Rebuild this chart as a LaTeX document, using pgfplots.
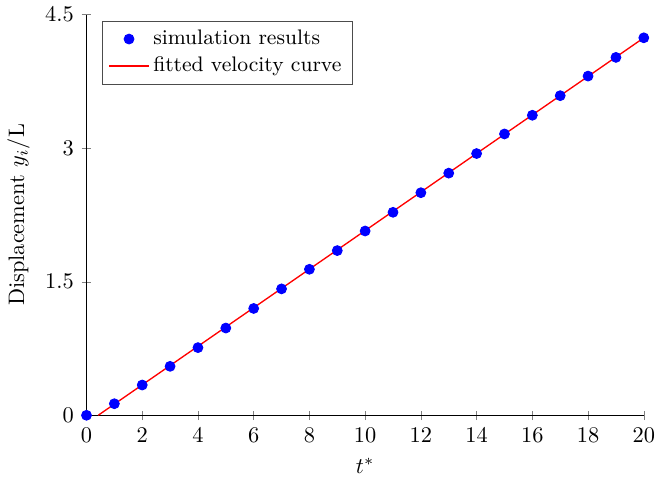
\documentclass[border=0pt]{standalone}
\usepackage{pgfplots}
\pgfplotsset{compat=1.18}
\begin{document}
\begin{tikzpicture}
\begin{axis}[
  scale only axis,
  width=249pt, height=179pt,
  xmin=0, xmax=20, ymin=0, ymax=4.5,
  axis x line=bottom, axis y line=left,
  axis line style={-},
  xtick={0,2,...,20},
  ytick={0,1.5,3,4.5},
  x tick label style={inner xsep=0pt},
  xlabel={$t^*$},
  ylabel={Displacement $y_i$/L},
  legend style={at={(0.028,0.985)}, anchor=north west, draw=black!70,
    font=\fontsize{9.4}{11.3}\selectfont},
  legend cell align=left,
  clip=false,
]
\addplot[only marks, mark=*, mark size=2.2pt, color=blue] coordinates {
  (0,0) (1,0.13) (2,0.34) (3,0.55) (4,0.76) (5,0.98) (6,1.20)
  (7,1.42) (8,1.64) (9,1.85) (10,2.07) (11,2.28) (12,2.50)
  (13,2.72) (14,2.94) (15,3.16) (16,3.37) (17,3.59) (18,3.81)
  (19,4.02) (20,4.24)
};
\addlegendentry{simulation results}
\addplot[red, line width=0.6pt,
  legend image code/.code={\fill[red] (0cm,-0.3pt) rectangle (0.6cm,0.3pt);}]
  coordinates {(0.42,0) (20,4.24)};
\addlegendentry{fitted velocity curve}
\end{axis}
\end{tikzpicture}
\end{document}
